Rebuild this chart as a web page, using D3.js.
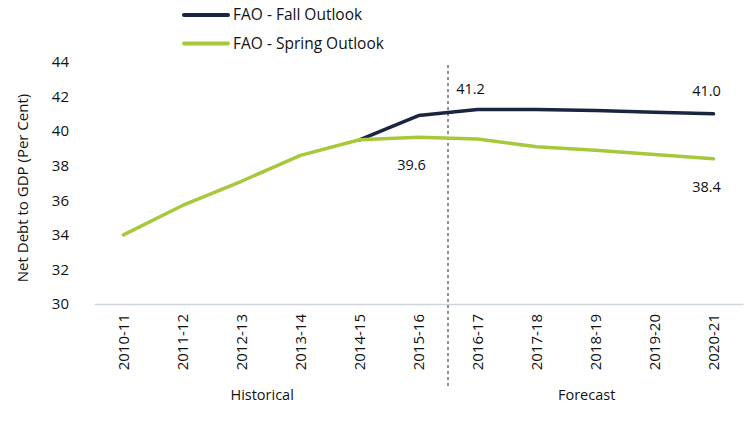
<!DOCTYPE html>
<html><head><meta charset="utf-8">
<script src="https://cdn.jsdelivr.net/npm/d3@7"></script>
<style>body{margin:0;background:#fff}svg{display:block}text{font-family:"Open Sans","Noto Sans",sans-serif;fill:#111}</style>
</head><body><svg id="c" width="750" height="423"></svg>
<script>
const categories=["2010-11","2011-12","2012-13","2013-14","2014-15","2015-16","2016-17","2017-18","2018-19","2019-20","2020-21"];
const fallValues=[null,null,null,null,39.5,40.9,41.25,41.25,41.2,41.1,41.0];
const springValues=[34.0,35.7,37.1,38.6,39.5,39.65,39.55,39.1,38.9,38.65,38.4];
const yTicks=[30,32,34,36,38,40,42,44];
const seriesNames=["FAO - Fall Outlook","FAO - Spring Outlook"];
const colors=["#1a2540","#a8c83c"];
const labels=[{s:0,i:6,t:"41.2",dx:-7,dy:-21},{s:0,i:10,t:"41.0",dx:-7,dy:-23},{s:1,i:5,t:"39.6",dx:-7,dy:28},{s:1,i:10,t:"38.4",dx:-7,dy:28}];
const periods=[{t:"Historical",at:2.35},{t:"Forecast",at:7.85}];

const svg=d3.select("#c");
const x=d3.scaleBand().domain(categories).range([94,743]);
const y=d3.scaleLinear().domain([30,44]).range([304,62]);
const cx=c=>x(c)+x.bandwidth()/2;

// y axis labels
const ya=svg.append("g").attr("transform","translate(69,0)").call(d3.axisLeft(y).tickValues(yTicks).tickSize(0).tickPadding(0));
ya.select(".domain").remove();
ya.selectAll("text").style("font-size","15px").attr("fill","#111").attr("font-family",null);

// x axis
const xa=svg.append("g").attr("transform","translate(0,304)").call(d3.axisBottom(x).tickSize(0).tickPadding(0));
xa.select(".domain").attr("stroke","#d0d6de").attr("stroke-width",1.5);
xa.selectAll("text").style("font-size","15px").attr("fill","#111").attr("font-family",null)
  .attr("transform","rotate(-90)").attr("text-anchor","end").attr("x",-10).attr("y",0).attr("dy","0.35em");

// y title
svg.append("text").attr("transform","translate(23,188) rotate(-90)").attr("text-anchor","middle").attr("dy","0.35em").style("font-size","15px").text("Net Debt to GDP (Per Cent)");

// divider
const dvx=(x(categories[5])+x.bandwidth()+x(categories[6]))/2;
svg.append("line").attr("x1",dvx).attr("x2",dvx)
  .attr("y1",65).attr("y2",387).attr("stroke","#1a2540").attr("stroke-width",1).attr("stroke-dasharray","3,3");

// period labels
periods.forEach(p=>{svg.append("text").attr("x",x(categories[0])+x.step()*(p.at+0.5)).attr("y",395).attr("dy","0.35em").attr("text-anchor","middle").style("font-size","14.5px").text(p.t);});

// lines
const line=d3.line().defined(d=>d!=null).x((d,i)=>cx(categories[i])).y(d=>y(d));
[fallValues,springValues].forEach((vals,s)=>{
  svg.append("path").datum(vals).attr("d",line).attr("fill","none").attr("stroke",colors[s]).attr("stroke-width",3.5).attr("stroke-linejoin","round").attr("stroke-linecap","round");
});

// data labels
const sv=[fallValues,springValues];
labels.forEach(l=>{svg.append("text").attr("x",cx(categories[l.i])+l.dx).attr("y",y(sv[l.s][l.i])+l.dy).attr("text-anchor","middle").attr("dy","0.35em").style("font-size","14.5px").text(l.t);});

// legend
seriesNames.forEach((n,i)=>{
  const gy=15+i*28.5;
  svg.append("line").attr("x1",184).attr("x2",228).attr("y1",gy).attr("y2",gy).attr("stroke",colors[i]).attr("stroke-width",4).attr("stroke-linecap","round");
  svg.append("text").attr("x",233).attr("y",gy).attr("dy","0.35em").style("font-size","15.5px").text(n);
});
</script></body></html>
